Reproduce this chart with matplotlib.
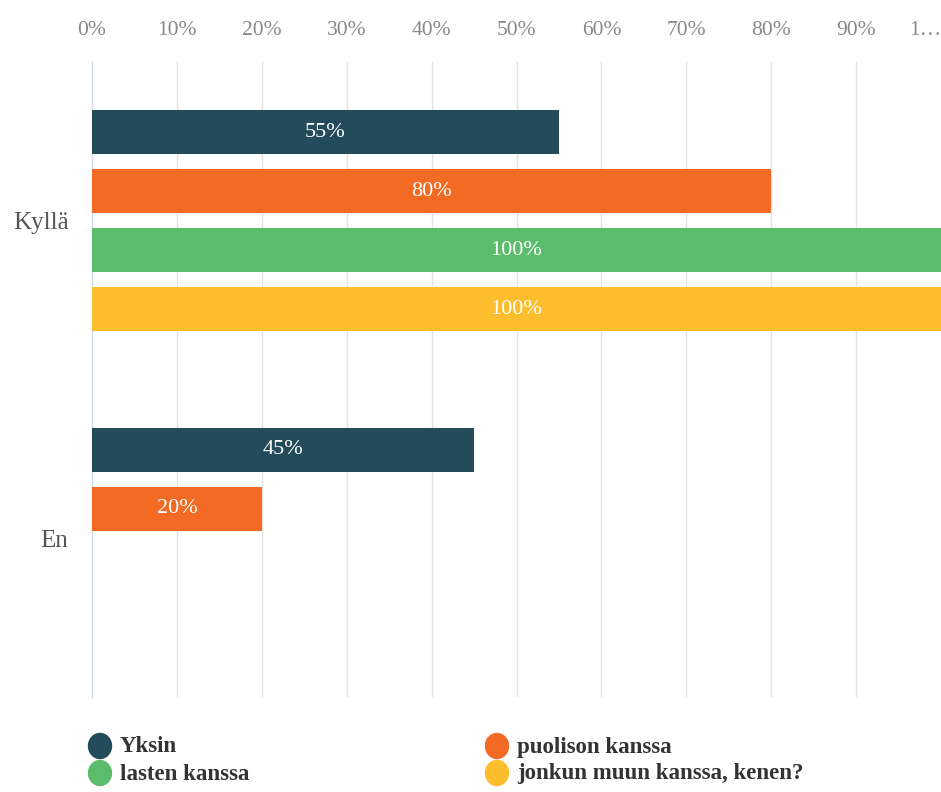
import matplotlib.pyplot as plt
from matplotlib.patches import Ellipse
import numpy as np

plt.rcParams['font.family'] = ['Liberation Serif', 'DejaVu Serif']

categories = ["Kyllä", "En"]
series = ["Yksin", "puolison kanssa", "lasten kanssa", "jonkun muun kanssa, kenen?"]
values = [
    [55, 45],
    [80, 20],
    [100, 0],
    [100, 0],
]
colors = ["#234b5a", "#f26a24", "#5bbd6b", "#fdbe2e"]
ticks = [0, 10, 20, 30, 40, 50, 60, 70, 80, 90, 100]
tick_labels = ["0%", "10%", "20%", "30%", "40%", "50%", "60%", "70%", "80%", "90%", "1…"]

fig = plt.figure(figsize=(9.41, 7.92), dpi=100)
ax = fig.add_axes([92 / 941, 95 / 792, 849 / 941, 635 / 792])

pitch = 0.186
height = 0.139
y_center = np.arange(len(categories))
for i, (name, vals, c) in enumerate(zip(series, values, colors)):
    y = y_center + (i - 1.5) * pitch
    ax.barh(y, vals, height=height, color=c, zorder=3)
    for yy, v in zip(y, vals):
        if v > 0:
            ax.text(v / 2, yy, f"{v}%", ha="center", va="center",
                    color="white", fontsize=16, zorder=4)

ax.set_xlim(0, 100)
ax.set_ylim(1.5, -0.5)
ax.set_yticks(y_center)
ax.set_yticklabels(categories, fontsize=18, color="#555555")
ax.xaxis.tick_top()
ax.set_xticks(ticks)
ax.set_xticklabels(tick_labels, fontsize=15.5, color="#888888")
ax.tick_params(axis="x", length=0, pad=16)
ax.tick_params(axis="y", length=0, pad=17)
# the "100%" label is cut short at the right edge
ax.get_xticklabels()[-1].set_horizontalalignment("right")

for t in ticks[1:-1]:
    ax.axvline(t, color="#e3e3e3", lw=1, zorder=1)
for s in ["top", "right", "bottom"]:
    ax.spines[s].set_visible(False)
ax.spines["left"].set_color("#c9d6e3")

# legend: colored dots with bold labels in two columns
leg_pos = [(100, 746), (497, 746), (100, 773), (497, 773)]
for k, (px, py) in enumerate(leg_pos):
    fig.patches.append(Ellipse((px / 941, 1 - py / 792), 23 / 941, 25 / 792,
                               transform=fig.transFigure, color=colors[k]))
    fig.text((px + 20) / 941, 1 - (py + 1) / 792, series[k], fontsize=16.5,
             fontweight="bold", color="#333333", va="center", ha="left")

fig.savefig("out.png", dpi=100)
